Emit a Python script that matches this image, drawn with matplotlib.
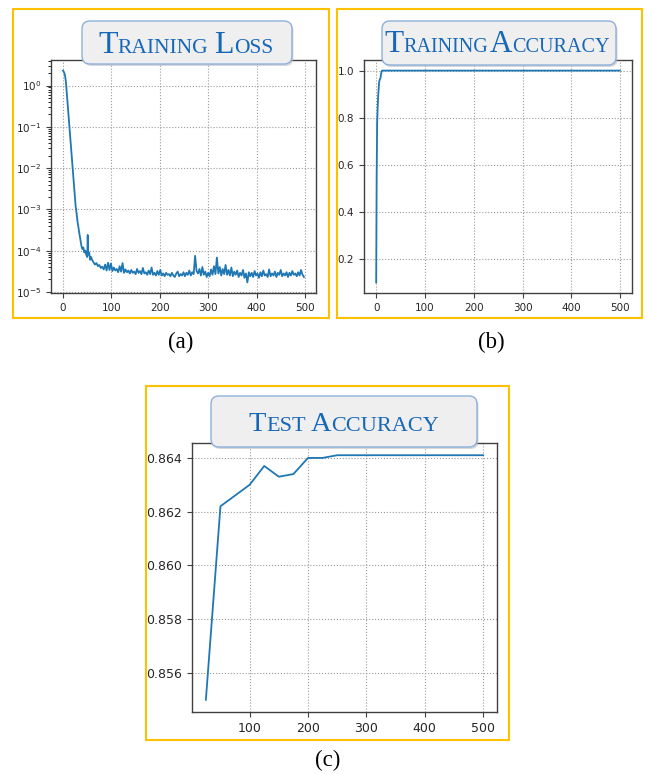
import numpy as np
import matplotlib.pyplot as plt
from matplotlib.patches import Rectangle, FancyBboxPatch
from matplotlib.transforms import IdentityTransform

W, H = 648, 774
TITLE_BLUE = "#1767b8"
FRAME = "#FFC000"

# training loss
loss_early_epochs = [0, 2, 4, 6, 8, 10, 12, 14, 16, 18, 20, 22, 24, 26, 28, 30,
                     32, 34, 36, 38, 40, 42, 44, 46, 48, 50, 51, 52, 54, 56, 58]
loss_early = [2.3, 2.1, 1.8, 1.2, 0.6, 0.3, 0.15, 0.08, 0.035, 0.018, 0.009,
              0.0045, 0.0022, 0.0012, 0.0008, 0.0005, 0.00035, 0.00025, 0.00018,
              0.00013, 0.00011, 0.00012, 0.00009, 0.0001, 0.00008, 0.00007,
              0.00024, 0.00008, 0.00009, 0.00006, 0.00007]
# from epoch 60 on, every 3 epochs, in units of 1e-5
loss_late_e5 = [6.0, 5.2, 4.6, 5.0, 4.2, 4.5, 3.8, 4.1, 3.5, 4.6, 3.3, 5.1, 3.4, 4.9,
                3.2, 3.9, 3.3, 3.6, 3.0, 4.2, 3.1, 5.0, 2.9, 3.5, 3.0, 3.3, 2.8, 3.4,
                2.9, 3.1, 2.7, 3.6, 2.9, 3.2, 2.7, 3.8, 2.8, 3.0, 2.6, 3.3, 2.7, 3.9,
                2.6, 2.9, 2.5, 3.2, 2.6, 3.4, 2.5, 2.8, 2.4, 2.9, 2.6, 2.7, 2.4, 2.9,
                2.5, 2.3, 2.8, 3.1, 2.4, 2.7, 2.5, 3.0, 2.4, 2.9, 2.6, 3.3, 2.5, 3.0,
                2.7, 7.5, 3.2, 2.8, 3.6, 2.5, 4.0, 2.6, 3.1, 2.3, 2.9, 2.4, 3.5, 2.6,
                4.2, 2.7, 6.8, 2.8, 4.0, 2.5, 3.6, 2.7, 4.5, 2.6, 3.4, 2.5, 3.9, 2.4,
                3.1, 2.6, 3.3, 2.3, 2.9, 2.5, 3.4, 2.2, 2.8, 1.7, 3.0, 2.4, 2.9, 2.3,
                3.2, 2.5, 2.8, 2.2, 3.0, 2.4, 3.3, 2.5, 2.7, 2.3, 3.5, 2.4, 2.8, 2.5,
                3.1, 2.3, 2.9, 2.6, 3.4, 2.4, 2.8, 2.5, 3.0, 2.3, 2.9, 2.5, 3.2, 2.6,
                2.8, 2.4, 3.0, 2.5, 3.4, 2.6, 2.3]

# training accuracy, panel (b)
train_acc_epochs = [0, 1, 2, 3, 4, 5, 6, 7, 8, 9, 10, 11, 12, 499]
train_acc = [0.1, 0.55, 0.78, 0.84, 0.89, 0.92, 0.95, 0.96, 0.965, 0.97, 0.985,
             0.995, 1.0, 1.0]

# test accuracy, panel (c)
test_epochs = [25, 50, 75, 100, 125, 150, 175, 200, 225, 250, 275, 300, 325, 350,
               375, 400, 425, 450, 475, 500]
test_acc = [0.855, 0.8622, 0.8626, 0.863, 0.8637, 0.8633, 0.8634, 0.864, 0.864,
            0.8641, 0.8641, 0.8641, 0.8641, 0.8641, 0.8641, 0.8641, 0.8641, 0.8641,
            0.8641, 0.8641]

fig = plt.figure(figsize=(W / 100, H / 100), dpi=100)
px = IdentityTransform()


def rect(x0, y0, x1, y1):
    # pixel box (top-left origin) -> figure fraction
    return [x0 / W, 1 - y1 / H, (x1 - x0) / W, (y1 - y0) / H]


def style(ax, size):
    ax.grid(True, linestyle=":", color="#9a9a9a", linewidth=0.8)
    for s in ax.spines.values():
        s.set_color("#404040")
        s.set_linewidth(1.0)
    ax.tick_params(labelsize=size, colors="#404040", labelcolor="#262626")


def frame(x0, y0, x1, y1):
    fig.add_artist(Rectangle((x0, H - y1), x1 - x0, y1 - y0, transform=px,
                             fill=False, edgecolor=FRAME, linewidth=1.5))


def title_box(x0, y0, x1, y1):
    fig.add_artist(FancyBboxPatch((x0 + 1.5, H - y1 - 2), x1 - x0, y1 - y0,
                                  boxstyle="round,pad=0,rounding_size=8", transform=px,
                                  facecolor="#bdbdbd", edgecolor="none", alpha=0.6, zorder=4))
    fig.add_artist(FancyBboxPatch((x0, H - y1), x1 - x0, y1 - y0,
                                  boxstyle="round,pad=0,rounding_size=8", transform=px,
                                  facecolor="#efefef", edgecolor="#8db0dc", linewidth=1.0,
                                  zorder=5))


def smallcaps(words, cx, base, big, small, gap):
    r = fig.canvas.get_renderer()
    texts, offs, x = [], [], 0.0
    for i, w in enumerate(words):
        for s, size in ((w[0], big), (w[1:], small)):
            t = fig.text(0, H - base, s, transform=px, fontsize=size,
                         family="Liberation Serif", color=TITLE_BLUE,
                         va="baseline", ha="left", zorder=6)
            offs.append(x)
            x += t.get_window_extent(r).width
            texts.append(t)
        if i < len(words) - 1:
            x += gap
    for t, o in zip(texts, offs):
        t.set_x(cx - x / 2 + o)


# (a) training loss
ax_a = fig.add_axes(rect(51, 60, 316, 293))
loss_late_epochs = 60 + 3 * np.arange(len(loss_late_e5))
ax_a.plot(list(loss_early_epochs) + list(loss_late_epochs),
          loss_early + [v * 1e-5 for v in loss_late_e5], color="#1f77b4", linewidth=1.3)
ax_a.set_yscale("log")
ax_a.set_xticks([0, 100, 200, 300, 400, 500])
style(ax_a, 7.5)

# (b) training accuracy
ax_b = fig.add_axes(rect(364, 60, 632, 293))
ax_b.plot(train_acc_epochs, train_acc, color="#1f77b4", linewidth=1.3)
ax_b.set_xticks([0, 100, 200, 300, 400, 500])
ax_b.set_yticks([0.2, 0.4, 0.6, 0.8, 1.0])
style(ax_b, 7.5)

# (c) test accuracy
ax_c = fig.add_axes(rect(192, 443, 497, 712))
ax_c.plot(test_epochs, test_acc, color="#1f77b4", linewidth=1.3)
ax_c.set_xticks([100, 200, 300, 400, 500])
ax_c.set_yticks([0.856, 0.858, 0.860, 0.862, 0.864])
ax_c.yaxis.set_major_formatter(plt.FormatStrFormatter("%.3f"))
style(ax_c, 9)

frame(13, 9, 329, 318)
frame(337, 9, 642, 318)
frame(146, 386, 509, 740)

title_box(82, 21, 292, 64)
title_box(382, 21, 616, 65)
title_box(211, 396, 477, 447)

smallcaps(["TRAINING", "LOSS"], 185.5, 53, 23, 15.5, 6)
smallcaps(["TRAINING", "ACCURACY"], 497, 52, 22.5, 14.5, 2)
smallcaps(["TEST", "ACCURACY"], 344, 431, 20.5, 16, 5)

for label, cx, cy in (("(a)", 181, 342), ("(b)", 491, 342), ("(c)", 328, 760)):
    fig.text(cx, H - cy, label, transform=px, ha="center", va="center",
             family="Liberation Serif", fontsize=16.5, color="black")

fig.savefig("out.png", dpi=100)
